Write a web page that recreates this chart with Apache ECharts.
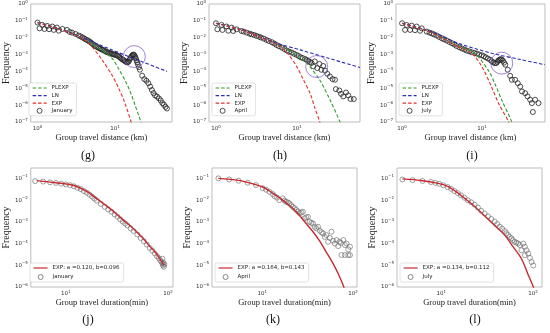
<!DOCTYPE html>
<html><head><meta charset="utf-8">
<script src="https://cdn.jsdelivr.net/npm/echarts@6/dist/echarts.min.js"></script>
<style>html,body{margin:0;padding:0;background:#fff}#c{width:550px;height:333px}</style>
</head><body><div id="c"></div>
<script>
// ---------- data ----------
const months = ['January', 'April', 'July'];
const fitNames = ['EXP: a =0.120, b=0.096', 'EXP: a =0.164, b=0.143', 'EXP: a =0.134, b=0.112'];

// Group travel distance (km) vs frequency
const janDist = [[1.0,0.079],[1.06,0.036],[1.15,0.058],[1.23,0.033],[1.33,0.050],[1.41,0.032],[1.55,0.046],[1.62,0.029],[1.78,0.040],[1.88,0.026],[2.1,0.033],[2.4,0.029],[2.6,0.022],[2.8,0.020],[3.1,0.0166],[3.4,0.0135],[3.6,0.012],[3.8,0.0105],[4.0,0.009],[4.2,0.0079],[4.4,0.0071],[4.6,0.0063],[4.8,0.0055],[5.0,0.0047],[5.2,0.0041],[5.5,0.0034],[5.75,0.003],[6.0,0.0027],[6.25,0.0024],[6.5,0.0022],[6.75,0.002],[7.0,0.0019],[7.3,0.0017],[7.6,0.0015],[7.9,0.0014],[8.2,0.00132],[8.5,0.00125],[8.8,0.00117],[9.15,0.0011],[9.5,0.00105],[9.85,0.001],[10.2,0.00095],[10.6,0.00089],[11,0.00083],[11.4,0.00072],[11.8,0.00063],[12.2,0.00056],[12.6,0.0005],[13,0.00046],[13.4,0.00042],[13.8,0.00038],[14.2,0.00035],[14.6,0.00035],[15,0.00038],[15.4,0.00048],[15.8,0.0006],[16.2,0.00073],[16.6,0.00087],[17,0.00095],[17.4,0.001],[17.8,0.00092],[18.2,0.00076],[18.6,0.0006],[19,0.00045],[19.4,0.00035],[19.8,0.00026],[20.4,0.00018],[21,0.000126],[22.5,5.6e-5],[24,3.5e-5],[25.5,2.8e-5],[27,2.0e-5],[28.5,1.26e-5],[30,7.9e-6],[31.5,5.2e-6],[33,3.8e-6],[35,3.2e-6],[37,2.5e-6],[39,1.9e-6],[41,1.32e-6],[43,1.05e-6],[45,7.9e-7],[47,6.3e-7]];
const aprDist = [[1.0,0.072],[1.04,0.0316],[1.17,0.057],[1.2,0.029],[1.35,0.046],[1.42,0.026],[1.56,0.040],[1.63,0.025],[1.8,0.0316],[2.07,0.025],[2.2,0.023],[2.4,0.020],[2.6,0.0175],[2.75,0.0158],[2.95,0.0145],[3.16,0.0129],[3.4,0.0115],[3.6,0.0102],[3.9,0.0088],[4.2,0.0074],[4.5,0.0064],[4.9,0.0054],[5.25,0.0045],[5.6,0.0037],[6.0,0.0031],[6.5,0.0026],[7.0,0.0021],[7.5,0.00174],[8.0,0.0015],[8.6,0.00132],[9.2,0.00112],[9.9,0.00095],[10.5,0.00082],[11.1,0.00069],[11.8,0.00062],[12.6,0.00054],[13.2,0.00048],[13.8,0.00043],[14.4,0.00037],[15.1,0.00032],[15.9,0.0002],[16.6,0.00039],[17.8,0.000158],[18.9,0.00028],[20,0.000126],[21.1,0.00021],[22.2,0.000112],[23.7,7.2e-5],[25.5,5.0e-5],[27.5,3.5e-5],[29.5,3.2e-5],[30.2,8.9e-6],[33.3,7.4e-6],[35,4.7e-6],[37.3,3.3e-6],[40.3,5.6e-6],[43,3.8e-6],[45.9,2.3e-6],[50.3,2.3e-6]];
const julDist = [[1.0,0.072],[1.09,0.029],[1.14,0.057],[1.26,0.029],[1.32,0.052],[1.45,0.028],[1.52,0.046],[1.68,0.026],[1.76,0.036],[2.03,0.023],[2.2,0.02],[2.35,0.018],[2.5,0.0158],[2.7,0.0135],[2.9,0.0112],[3.13,0.0093],[3.35,0.008],[3.6,0.0068],[3.9,0.0056],[4.2,0.0047],[4.5,0.0039],[4.8,0.0032],[5.2,0.0027],[5.6,0.0023],[6.0,0.002],[6.4,0.00174],[6.9,0.00155],[7.4,0.00138],[8.0,0.00125],[8.6,0.00115],[9.2,0.001],[9.9,0.00091],[10.5,0.0008],[11.1,0.00069],[11.8,0.00058],[12.6,0.00049],[13.2,0.0004],[13.8,0.00034],[14.4,0.00031],[15,0.00031],[15.5,0.00037],[16,0.00045],[16.5,0.0005],[17.1,0.00054],[17.6,0.0005],[18.2,0.00043],[18.8,0.00033],[19.5,0.00025],[20.9,0.000126],[22.4,5.5e-5],[23.5,3.2e-5],[25.8,3.2e-5],[27.9,2.0e-5],[29.9,1.26e-5],[31.5,6.5e-6],[34.5,5.1e-6],[36.9,3.3e-6],[39.8,2.1e-6],[41.8,1.32e-6],[43,3.9e-7],[45.9,2.1e-6],[50.6,1.32e-6]];

// fitted curves, distance
const janPLEXP = [[1,0.079],[1.5,0.05],[2,0.033],[3,0.016],[4,0.0085],[5.2,0.0038],[6.9,0.00166],[9.1,0.00063],[11.2,0.00014],[14.1,2.0e-5],[16.2,4.5e-6],[18.2,1e-6],[20.2,2.5e-7],[22.4,7e-8]];
const janLN = [[1,0.079],[2,0.0316],[3.5,0.0117],[9.1,0.0019],[22,0.00039],[47,0.0001]];
const janEXP = [[1,0.075],[1.5,0.045],[2,0.03],[3,0.015],[4,0.0079],[5.1,0.0028],[6.9,0.00045],[9.1,6.3e-5],[11.2,1e-5],[13.5,1.26e-6],[16.2,1e-7],[17,4e-8]];
const aprPLEXP = [[1,0.072],[2,0.03],[3.2,0.013],[5,0.0052],[8.2,0.0016],[12.6,0.00039],[19,3.2e-5],[25.5,2.1e-6],[34,1e-7],[36,4e-8]];
const aprLN = [[1,0.072],[2,0.032],[3.2,0.0135],[5.6,0.0047],[11,0.0019],[25,0.00059],[60,0.00017]];
const aprEXP = [[1,0.07],[2,0.03],[3.2,0.0128],[4.5,0.0065],[6.2,0.003],[8,0.00089],[9.9,0.0002],[12,3.2e-5],[14.5,5.1e-6],[16.6,7e-7],[19.1,1e-7],[20,4e-8]];
const julPLEXP = [[1,0.072],[2,0.027],[3.2,0.0093],[4.8,0.0033],[8.1,0.0012],[12,0.000112],[14.5,1.8e-5],[17.6,2.0e-6],[23.5,1e-7],[25,4e-8]];
const julLN = [[1,0.072],[2,0.029],[3.2,0.012],[5,0.0047],[13.2,0.0012],[30,0.00051],[61,0.00025]];
const julEXP = [[1,0.07],[2,0.027],[3.2,0.0092],[4.8,0.0032],[7.4,0.0012],[9.9,0.0002],[13.2,1.12e-5],[15.9,1.4e-6],[21.4,1e-7],[22.5,4e-8]];

// highlighted peak (purple circle centres)
const peakMarks = [[17.8,7.6e-4],[17.5,1.95e-4],[17.6,3.1e-4]];

// Group travel duration (min) vs frequency
const janDur = [[5,0.075],[6,0.071],[7,0.066],[8,0.062],[9,0.057],[10,0.053],[11,0.048],[12,0.043],[13,0.037],[14,0.032],[15,0.026],[16,0.022],[17,0.018],[18,0.0145],[19,0.0117],[20,0.0095],[22,0.0066],[24,0.0049],[26,0.0037],[28,0.0029],[30,0.0022],[32,0.0017],[34,0.0013],[36,0.00102],[38,0.00083],[40,0.00068],[43,0.0005],[46,0.00038],[50,0.00026],[54,0.00018],[58,0.000126],[62,9e-5],[66,6.3e-5],[70,4.7e-5],[74,3.5e-5],[78,2.6e-5],[81,2.1e-5],[84,1.7e-5],[86,1.45e-5],[88,2.0e-5],[88,1.2e-5],[89,1.0e-5],[90,1.3e-5],[91,8.5e-6],[92,1.1e-5]];
const aprDur = [[3.27,0.1],[4.3,0.089],[5.46,0.078],[6.87,0.063],[8.5,0.049],[10.1,0.035],[11,0.03],[12,0.024],[13,0.019],[13.6,0.0151],[14.5,0.013],[15.4,0.01],[16.8,0.012],[17.5,0.0095],[18.3,0.0083],[19.1,0.0078],[19.9,0.0071],[20.8,0.0058],[21.7,0.0049],[22.7,0.0042],[23.7,0.0035],[24.7,0.003],[25.8,0.0025],[27,0.0027],[28,0.0029],[29.3,0.00145],[30.5,0.0016],[31.9,0.0017],[33.3,0.001],[34.8,0.0009],[36.2,0.00083],[37.8,0.00059],[39.5,0.0005],[41.2,0.00059],[43,0.00039],[45,0.00033],[46.8,0.00029],[48.8,0.0002],[50.9,0.000245],[53.2,0.00012],[55.5,0.00018],[57.9,0.00035],[60.4,0.000135],[63,0.0001],[65.9,0.000145],[68.7,7.6e-5],[71,0.00012],[73.6,0.000107],[74.8,2.95e-5],[78.2,0.000145],[81.5,8.5e-5],[81.5,2.95e-5],[85,0.0001],[88.8,5.4e-5],[88.8,2.95e-5],[92.7,7.1e-5],[92.7,2.95e-5]];
const julDur = [[3.76,0.089],[4.84,0.083],[6.24,0.076],[7.7,0.068],[8.6,0.062],[9.5,0.056],[10.5,0.048],[11.7,0.04],[12.8,0.033],[13.9,0.026],[15.1,0.021],[16.4,0.0166],[17.9,0.0128],[19.5,0.0098],[21.2,0.0079],[23.1,0.0062],[25.1,0.0045],[27.3,0.0032],[29.7,0.0024],[32.3,0.00178],[35.1,0.00135],[38.2,0.00103],[40.7,0.0008],[43.4,0.0006],[46.2,0.00048],[49.2,0.00038],[51.3,0.0003],[53.5,0.000245],[55.8,0.0002],[58.3,0.000174],[60.6,0.000145],[63,0.00012],[66,0.00011],[69,0.0001],[72,8.5e-5],[75,4.9e-5],[78.3,0.0001],[81.7,7.1e-5],[81.7,2.9e-5],[85.1,4.9e-5],[88.9,3.5e-5],[92.7,2.2e-5],[96.7,1.41e-5],[100.9,9.8e-6]];
const janDurEXP = [[5.2,0.079],[8,0.063],[12,0.047],[16,0.025],[20,0.0117],[25,0.0054],[30,0.0027],[36,0.00126],[43,0.00063],[50,0.00032],[58,0.000158],[66,7.4e-5],[75,4e-5],[83,2e-5],[91,1e-5]];
const aprDurEXP = [[3.27,0.1],[5,0.085],[7,0.064],[10.1,0.04],[13,0.021],[15.4,0.013],[20,0.0055],[23.7,0.0029],[30,0.0009],[36.2,0.00035],[43,0.00013],[50,4.5e-5],[60.4,1.2e-5],[70,3.5e-6],[78,1.2e-6],[83,5e-7]];
const julDurEXP = [[3.76,0.095],[6,0.08],[9,0.06],[11.7,0.043],[15,0.022],[18,0.012],[23.1,0.0051],[30,0.0018],[40,0.00056],[49.2,0.000245],[60,7.6e-5],[75,2e-5],[88,4e-6],[101,1e-6],[106,4e-7]];

// axis extents
const xRanges = [[0.818,54.6],[0.82,60],[0.84,61],[4.54,111.6],[2.78,110.8],[3.28,125.6]];
const yTopRange = [1e-7, 1];
const yBottomRange = [1e-6, 0.3];
const panelLabels = ['(g)','(h)','(i)','(j)','(k)','(l)'];

// ---------- chart ----------
const distSets = [janDist, aprDist, julDist];
const plexpSets = [janPLEXP, aprPLEXP, julPLEXP];
const lnSets = [janLN, aprLN, julLN];
const expSets = [janEXP, aprEXP, julEXP];
const durSets = [janDur, aprDur, julDur];
const durFitSets = [janDurEXP, aprDurEXP, julDurEXP];

const grids = [
  {left:26, top:4, width:146, height:118},
  {left:209, top:4, width:151, height:118},
  {left:396, top:4, width:149, height:118},
  {left:27, top:168, width:146, height:119},
  {left:212, top:168, width:145, height:119},
  {left:397, top:168, width:145, height:119}
];
const labelPos = [[88,156],[280,156],[472,156],[88,320],[273,320],[475,320]];

const GREEN = '#2f9a2f', BLUE = '#2b2bb5', RED = '#e0302a', RED2 = '#c62a2f', PURPLE = '#8a63d2';
const tickFont = 'DejaVu Sans';
const rich = {
  b: {fontSize: 5.5, fontFamily: tickFont, color: '#333'},
  e: {fontSize: 4, fontFamily: tickFont, color: '#333', padding: [0, 0, 4, 0]}
};
function powLabel(v) {
  const e = Math.log10(v), r = Math.round(e);
  if (Math.abs(e - r) > 1e-6) return '';
  const s = r < 0 ? '\u2212' + (-r) : String(r);
  return '{b|10}{e|' + s + '}';
}

const option = {
  animation: false,
  backgroundColor: '#fff',
  grid: grids.map(g => Object.assign({show: true, borderColor: '#bdbdbd', borderWidth: 1, backgroundColor: '#fff'}, g)),
  xAxis: grids.map((g, i) => ({
    type: 'log', logBase: 10, gridIndex: i, min: xRanges[i][0], max: xRanges[i][1],
    name: i < 3 ? 'Group travel distance (km)' : 'Group travel duration(min)',
    nameLocation: 'middle', nameGap: 9,
    nameTextStyle: {fontFamily: 'Liberation Serif', fontSize: 8.5, color: '#222'},
    axisLine: {show: false}, axisTick: {show: false}, splitLine: {show: false},
    axisLabel: {formatter: powLabel, margin: 3, rich: rich}
  })),
  yAxis: grids.map((g, i) => ({
    type: 'log', logBase: 10, gridIndex: i,
    min: i < 3 ? yTopRange[0] : yBottomRange[0], max: i < 3 ? yTopRange[1] : yBottomRange[1],
    name: 'Frequency', nameLocation: 'middle', nameGap: 13,
    nameTextStyle: {fontFamily: 'Liberation Serif', fontSize: 10, color: '#222'},
    axisLine: {show: false}, axisTick: {show: false}, splitLine: {show: false},
    axisLabel: {formatter: powLabel, margin: 3, rich: rich}
  })),
  legend: [],
  series: [],
  graphic: panelLabels.map((t, i) => ({
    type: 'text', x: labelPos[i][0], y: labelPos[i][1],
    style: {text: t, fill: '#111', font: '12px "Liberation Serif"', textAlign: 'center', textVerticalAlign: 'middle'}
  }))
};

const legendBase = {
  orient: 'vertical', itemWidth: 14, itemHeight: 5, selectedMode: false,
  textStyle: {fontSize: 5.5, fontFamily: tickFont, color: '#222'},
  backgroundColor: '#fff', borderColor: '#cfcfcf', borderWidth: 0.6, borderRadius: 2,
  lineStyle: {width: 1.2}
};
const noDot = {color: 'rgba(0,0,0,0)', borderWidth: 0, opacity: 0};

for (let i = 0; i < 3; i++) {
  const dash = [3.5, 2];
  option.series.push({type: 'scatter', name: months[i], xAxisIndex: i, yAxisIndex: i, data: distSets[i],
    symbol: 'circle', symbolSize: 5, z: 2,
    itemStyle: {color: 'rgba(255,255,255,0)', borderColor: '#222', borderWidth: 1}});
  [['PLEXP', plexpSets[i], GREEN], ['LN', lnSets[i], BLUE], ['EXP', expSets[i], RED]].forEach(([n, d, c]) => {
    option.series.push({type: 'line', name: n, xAxisIndex: i, yAxisIndex: i, data: d, symbol: 'none',
      smooth: 0.3, z: 3, color: c, lineStyle: {color: c, width: 1.1, type: dash}});
  });
  option.series.push({type: 'scatter', name: 'peak' + i, xAxisIndex: i, yAxisIndex: i, data: [peakMarks[i]],
    symbol: 'circle', symbolSize: 22, z: 4, silent: true,
    itemStyle: {color: 'rgba(0,0,0,0)', borderColor: PURPLE, borderWidth: 1}});
  option.legend.push(Object.assign({}, legendBase, {
    left: grids[i].left + 3, top: 83, itemGap: 1.6, padding: [2, 4, 2, 3],
    data: [{name: 'PLEXP', itemStyle: noDot}, {name: 'LN', itemStyle: noDot}, {name: 'EXP', itemStyle: noDot},
      {name: months[i], icon: 'circle', itemStyle: {color: 'rgba(0,0,0,0)', borderColor: '#222', borderWidth: 1}}]
  }));
}
for (let k = 0; k < 3; k++) {
  const i = k + 3;
  option.series.push({type: 'scatter', name: months[k], xAxisIndex: i, yAxisIndex: i, data: durSets[k],
    symbol: 'circle', symbolSize: 5, z: 2,
    itemStyle: {color: 'rgba(255,255,255,0)', borderColor: '#6a6a6a', borderWidth: 0.8}});
  option.series.push({type: 'line', name: fitNames[k], xAxisIndex: i, yAxisIndex: i, data: durFitSets[k],
    symbol: 'none', smooth: 0.3, z: 3, color: RED2, lineStyle: {color: RED2, width: 1.4}});
  option.legend.push(Object.assign({}, legendBase, {
    left: grids[i].left + 3, top: 263, itemGap: 3, padding: [2, 4, 2, 3],
    data: [{name: fitNames[k], itemStyle: noDot},
      {name: months[k], icon: 'circle', itemStyle: {color: 'rgba(0,0,0,0)', borderColor: '#6a6a6a', borderWidth: 1}}]
  }));
}

const chart = echarts.init(document.getElementById('c'), null, {renderer: 'canvas'});
chart.setOption(option);
</script>
</body></html>
